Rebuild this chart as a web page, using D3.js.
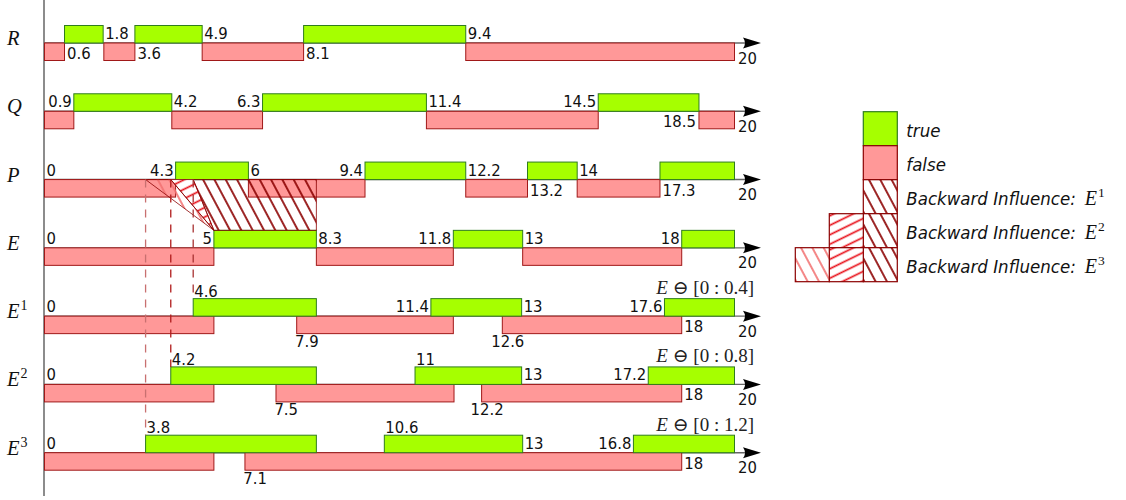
<!DOCTYPE html>
<html>
<head>
<meta charset="utf-8">
<script src="https://cdn.jsdelivr.net/npm/d3@7"></script>
<style>
  body { margin: 0; background: #fff; }
  .val { font-family: "DejaVu Sans Condensed", "DejaVu Sans", sans-serif; font-stretch: condensed; font-size: 16.5px; fill: #111; }
  .math { font-family: "Liberation Serif", "DejaVu Serif", serif; fill: #111; }
  .leg { font-family: "DejaVu Sans Condensed", "DejaVu Sans", sans-serif; font-stretch: condensed; font-style: italic; font-size: 18.5px; fill: #111; white-space: pre; }
</style>
</head>
<body>
<svg id="chart" width="1126" height="500"></svg>
<script>
// signals, top to bottom
var rowKeys  = ["R", "Q", "P", "E", "E1", "E2", "E3"];
var rowNames = ["R", "Q", "P", "E", "E", "E", "E"];
var rowSups  = ["", "", "", "", "1", "2", "3"];

// spans as drawn on the (schematic) time axis 0..20
var rTrue  = [[0.58, 1.7], [2.62, 4.57], [7.51, 12.21]];
var rFalse = [[0, 0.58], [1.72, 2.62], [4.57, 7.51], [12.21, 20]];
var rLabels = [["0.6", 0.58, "br"], ["1.8", 1.7, "ar"], ["3.6", 2.62, "br"], ["4.9", 4.57, "ar"], ["8.1", 7.51, "br"], ["9.4", 12.21, "ar"], ["20", 20, "end"]];

var qTrue  = [[0.85, 3.69], [6.32, 11.07], [16.05, 18.97]];
var qFalse = [[0, 0.85], [3.69, 6.32], [11.07, 16.05], [18.97, 20]];
var qLabels = [["0.9", 0.85, "al"], ["4.2", 3.69, "ar"], ["6.3", 6.32, "al"], ["11.4", 11.07, "ar"], ["14.5", 16.05, "al"], ["18.5", 18.97, "bl"], ["20", 20, "end"]];

var pTrue  = [[3.8, 5.91], [9.29, 12.21], [14.0, 15.44], [17.84, 20]];
var pFalse = [[0, 3.8], [5.91, 9.29], [12.21, 14.0], [15.44, 17.84]];
var pLabels = [["0", 0, "ar"], ["4.3", 3.8, "al"], ["6", 5.91, "ar"], ["9.4", 9.29, "al"], ["12.2", 12.21, "ar"], ["13.2", 14.0, "br"], ["14", 15.44, "ar"], ["17.3", 17.84, "br"], ["20", 20, "end"]];

var eTrue  = [[4.91, 7.88], [11.85, 13.86], [18.47, 20]];
var eFalse = [[0, 4.91], [7.88, 11.85], [13.86, 18.47]];
var eLabels = [["0", 0, "ar"], ["5", 4.91, "al"], ["8.3", 7.88, "ar"], ["11.8", 11.85, "al"], ["13", 13.86, "ar"], ["18", 18.47, "al"], ["20", 20, "end"]];

var e1True  = [[4.31, 7.88], [11.2, 13.83], [17.97, 20]];
var e1False = [[0, 4.91], [7.31, 11.85], [13.27, 18.47]];
var e1Labels = [["0", 0, "ar"], ["4.6", 4.31, "at"], ["7.9", 7.31, "bb"], ["11.4", 11.2, "al"], ["13", 13.83, "ar"], ["12.6", 13.27, "bb"], ["17.6", 17.97, "al"], ["18", 18.47, "br"], ["20", 20, "end"]];

var e2True  = [[3.66, 7.88], [10.74, 13.83], [17.5, 20]];
var e2False = [[0, 4.91], [6.71, 11.87], [12.67, 18.47]];
var e2Labels = [["0", 0, "ar"], ["4.2", 3.66, "at"], ["7.5", 6.71, "bb"], ["11", 10.74, "at"], ["13", 13.83, "ar"], ["12.2", 12.67, "bb"], ["17.2", 17.5, "al"], ["18", 18.47, "br"], ["20", 20, "end"]];

var e3True  = [[2.93, 7.88], [9.85, 13.86], [17.07, 20]];
var e3False = [[0, 4.91], [5.81, 18.47]];
var e3Labels = [["0", 0, "ar"], ["3.8", 2.93, "at"], ["7.1", 5.81, "bb"], ["10.6", 9.85, "at"], ["13", 13.86, "ar"], ["16.8", 17.07, "al"], ["18", 18.47, "br"], ["20", 20, "end"]];

var shifts = ["0.4", "0.8", "1.2"];

var legendTexts = ["true", "false", "Backward Influence:", "Backward Influence:", "Backward Influence:"];
var legendSups  = ["", "", "1", "2", "3"];

var GREEN = "#a6ff00", GREEN_LINE = "#2f7d1e";
var PINK = "#ff9898", PINK_LINE = "#a01818";
var INF_COL = ["#8b0000", "#e8141c", "#f27272"];   // E1, E2, E3 hatch
var DASH_COL = ["#a83232", "#b01c1c", "#c87070"];

var table = rowKeys.map(function(k, i) {
  return {
    key: k, name: rowNames[i], sup: rowSups[i],
    tr: [rTrue, qTrue, pTrue, eTrue, e1True, e2True, e3True][i],
    fa: [rFalse, qFalse, pFalse, eFalse, e1False, e2False, e3False][i],
    labels: [rLabels, qLabels, pLabels, eLabels, e1Labels, e2Labels, e3Labels][i]
  };
});

var svg = d3.select("#chart");
var x = d3.scaleLinear().domain([0, 20]).range([44.5, 734.5]);
var y = d3.scalePoint().domain(rowKeys).range([43, 452.7]);
var BAR = 17.5;

// hatch patterns
var defs = svg.append("defs");
function hatch(id, col, size, angle, horizontal) {
  var p = defs.append("pattern").attr("id", id)
    .attr("patternUnits", "userSpaceOnUse")
    .attr("width", size).attr("height", size)
    .attr("patternTransform", "rotate(" + angle + ")");
  if (horizontal) {
    p.append("line").attr("x1", 0).attr("x2", size).attr("y1", size / 2).attr("y2", size / 2);
  } else {
    p.append("line").attr("x1", size / 2).attr("x2", size / 2).attr("y1", 0).attr("y2", size);
  }
  p.select("line").attr("stroke", col).attr("stroke-width", 1.7);
}
hatch("h1", INF_COL[0], 10, -28, false);
hatch("h2", INF_COL[1], 8.5, -26, true);
hatch("h3", INF_COL[2], 10, -28, false);

// vertical axis
svg.append("line").attr("x1", 44).attr("x2", 44).attr("y1", 0).attr("y2", 496)
  .attr("stroke", "#666").attr("stroke-width", 1.5);

var row = svg.selectAll("g.row").data(table).enter().append("g").attr("class", "row")
  .attr("transform", function(d) { return "translate(0," + y(d.key) + ")"; });

// time axis with arrow
row.append("line").attr("x1", x(0)).attr("x2", 750).attr("y1", 0).attr("y2", 0)
  .attr("stroke", "#666").attr("stroke-width", 1.4);
row.append("path")
  .attr("d", function() {
    var t = x(20) + 26.5;
    return "M" + t + ",0 L" + (t - 18) + ",-5.5 Q" + (t - 14) + ",0 " + (t - 18) + ",5.5 Z";
  })
  .attr("fill", "#000");

row.selectAll("rect.f").data(function(d) { return d.fa; }).enter().append("rect").attr("class", "f")
  .attr("x", function(s) { return x(s[0]); })
  .attr("width", function(s) { return x(s[1]) - x(s[0]); })
  .attr("y", 0).attr("height", BAR)
  .attr("fill", PINK).attr("stroke", PINK_LINE).attr("stroke-width", 1);

row.selectAll("rect.t").data(function(d) { return d.tr; }).enter().append("rect").attr("class", "t")
  .attr("x", function(s) { return x(s[0]); })
  .attr("width", function(s) { return x(s[1]) - x(s[0]); })
  .attr("y", -BAR).attr("height", BAR)
  .attr("fill", GREEN).attr("stroke", GREEN_LINE).attr("stroke-width", 1);

// row names
var rn = row.append("text").attr("class", "math")
  .attr("x", 7).attr("y", 2).style("font-size", "20.5px");
rn.append("tspan").style("font-style", "italic").text(function(d) { return d.name; });
rn.append("tspan").attr("dx", 1).attr("dy", -8).style("font-size", "14px")
  .text(function(d) { return d.sup; });

// value labels
function place(l) {
  var px = x(l[1]);
  switch (l[2]) {
    case "ar":  return [px + 2, -4, "start"];
    case "al":  return [px - 2, -4, "end"];
    case "br":  return [px + 2.5, 16, "start"];
    case "bl":  return [px - 3, 16, "end"];
    case "at":  return [px + 1, -BAR - 2, "start"];
    case "bb":  return [px + 22, BAR + 13.5, "end"];
    default:    return [px + 3.5, 20.5, "start"];
  }
}
row.selectAll("text.val").data(function(d) { return d.labels; }).enter().append("text")
  .attr("class", "val")
  .attr("x", function(l) { return place(l)[0]; })
  .attr("y", function(l) { return place(l)[1]; })
  .attr("text-anchor", function(l) { return place(l)[2]; })
  .text(function(l) { return l[0]; });

// E shifted by [0 : d]
shifts.forEach(function(s, i) {
  var t = svg.append("text").attr("class", "math")
    .attr("x", 754).attr("y", y(rowKeys[4 + i]) - 22)
    .attr("text-anchor", "end").style("font-size", "19px").style("fill", "#222");
  t.append("tspan").style("font-style", "italic").text("E");
  t.append("tspan").text(" \u2296 [0 : " + s + "]");
});

// backward influence of E's rising edge on P
var yP = y("P"), yE = y("E") - BAR;
var eUp = eTrue[0][0], eDown = eTrue[0][1];
var starts = [e1True[0][0], e2True[0][0], e3True[0][0]];
var regions = [
  [[starts[0], yP], [eDown, yP], [eDown, yE], [eUp, yE]],
  [[starts[1], yP], [starts[0], yP], [eUp, yE]],
  [[starts[2], yP], [starts[1], yP], [eUp, yE]]
];
var line = d3.line().x(function(p) { return x(p[0]); }).y(function(p) { return p[1]; });
svg.append("path").attr("d", line(regions[1]) + "Z").attr("fill", "#fff");
regions.forEach(function(r, i) {
  svg.append("path").attr("d", line(r) + "Z")
    .attr("fill", "url(#h" + (i + 1) + ")")
    .attr("stroke", "#8b0000").attr("stroke-width", 0.8);
});

// dashed drop lines to each E^k
starts.forEach(function(s, i) {
  svg.append("line")
    .attr("x1", x(s)).attr("x2", x(s))
    .attr("y1", yP).attr("y2", y(rowKeys[4 + i]) - BAR)
    .attr("stroke", DASH_COL[i]).attr("stroke-width", 1.3)
    .attr("stroke-dasharray", "8,7");
});

// legend
var lg = svg.append("g").attr("transform", "translate(863.3,111.7)");
var S = 34;
var legRow = lg.selectAll("g").data(legendTexts).enter().append("g")
  .attr("transform", function(d, i) { return "translate(0," + i * S + ")"; });
legRow.each(function(d, i) {
  var g = d3.select(this);
  var fills = i === 0 ? [GREEN] : i === 1 ? [PINK] : d3.range(i - 1).map(function(k) { return "url(#h" + (k + 1) + ")"; });
  fills.forEach(function(f, k) {
    if (i > 1) g.append("rect").attr("x", -k * S).attr("width", S).attr("height", S).attr("fill", "#fff");
    g.append("rect").attr("x", -k * S).attr("width", S).attr("height", S)
      .attr("fill", f).attr("stroke", i === 0 ? GREEN_LINE : "#8b0000").attr("stroke-width", 1.2);
  });
  var t = g.append("text").attr("class", "leg").attr("x", 43).attr("y", 25.5).text(d);
  if (legendSups[i]) {
    var m = g.append("text").attr("class", "math").attr("y", 25.5).style("font-size", "20px");
    m.append("tspan").style("font-style", "italic").text("E");
    m.append("tspan").attr("dx", 1).attr("dy", -8).style("font-size", "13.5px").text(legendSups[i]);
    m.attr("x", 43 + t.node().getComputedTextLength() + 9);
  }
});
</script>
</body>
</html>
